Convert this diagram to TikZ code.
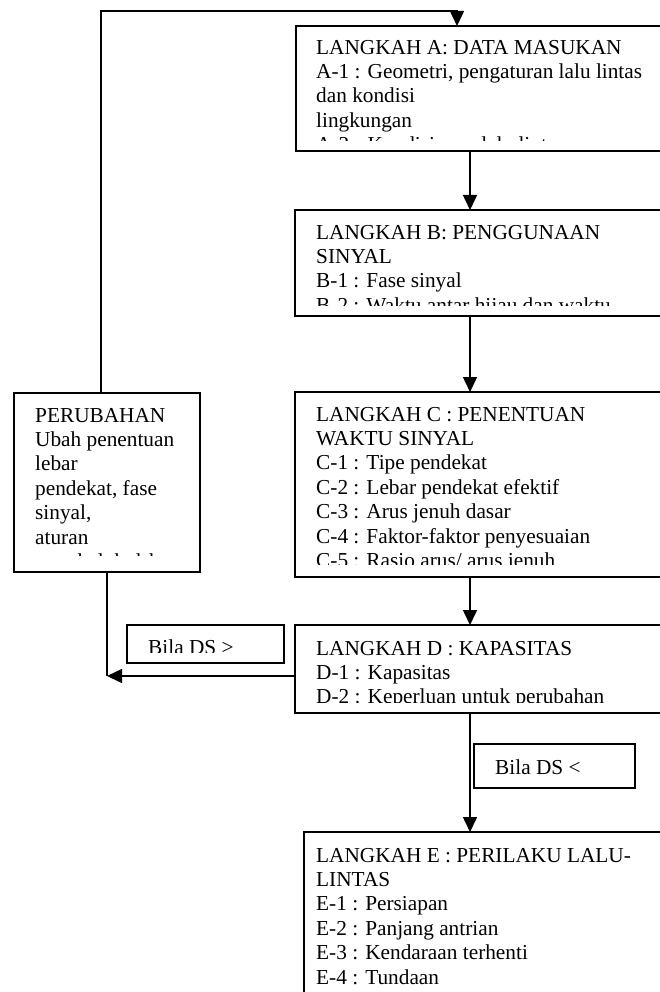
\documentclass[tikz,border=0pt]{standalone}
\usepackage{fontspec}
\setmainfont{Liberation Serif}
\usetikzlibrary{arrows.meta,calc}
\begin{document}
\begin{tikzpicture}[x=1pt,y=-1pt,
  box/.style={draw, line width=1.5pt, rectangle, inner sep=0pt, outer sep=0pt, anchor=north west},
  txt/.style={anchor=north west, inner sep=0pt, align=left, font=\fontsize{21.3}{24.4}\selectfont},
  arr/.style={line width=1.5pt, -{Triangle[length=15pt,width=14pt]}},
  ln/.style={line width=1.5pt}]
\useasboundingbox (0,0) rectangle (659,992);

% boxes
\node[box, minimum width=420pt, minimum height=125pt] (A) at (296,26) {};
\node[box, minimum width=420pt, minimum height=106pt] (B) at (295,210) {};
\node[box, minimum width=420pt, minimum height=185pt] (C) at (295,392) {};
\node[box, minimum width=420pt, minimum height=88pt] (D) at (295,625) {};
\node[box, minimum width=420pt, minimum height=220pt] (E) at (304,832) {};
\node[box, minimum width=186pt, minimum height=179pt] (P) at (14,393) {};
\node[box, minimum width=157pt, minimum height=38pt] (G1) at (127,625) {};
\node[box, minimum width=161pt, minimum height=44pt] (G2) at (474,744) {};

% texts (clipped like the text boxes of the original)
\begin{scope}
\clip (A.north west) rectangle ([yshift=10pt]A.south east);
\node[txt] (At) at (316,36.9) {\strut LANGKAH A: DATA MASUKAN\\A-1 : Geometri, pengaturan lalu lintas\\dan kondisi\\lingkungan\\A-2 : Kondisi arus lalu lintas};
\end{scope}
\begin{scope}
\clip (B.north west) rectangle ([yshift=11pt]B.south east);
\node[txt] (Bt) at (316,221.9) {\strut LANGKAH B: PENGGUNAAN\\SINYAL\\B-1 : Fase sinyal\\B-2 : Waktu antar hijau dan waktu\\hilang};
\end{scope}
\begin{scope}
\clip (C.north west) rectangle ([yshift=13pt]C.south east);
\node[txt] (Ct) at (316,403.9) {\strut LANGKAH C : PENENTUAN\\WAKTU SINYAL\\C-1 : Tipe pendekat\\C-2 : Lebar pendekat efektif\\C-3 : Arus jenuh dasar\\C-4 : Faktor-faktor penyesuaian\\C-5 : Rasio arus/ arus jenuh};
\end{scope}
\begin{scope}
\clip (D.north west) rectangle ([yshift=11pt]D.south east);
\node[txt] (Dt) at (316,637.9) {\strut LANGKAH D : KAPASITAS\\D-1 : Kapasitas\\D-2 : Keperluan untuk perubahan};
\end{scope}
\begin{scope}
\clip (E.north west) rectangle (E.south east);
\node[txt] (Et) at (316,844.9) {\strut LANGKAH E : PERILAKU LALU-\\LINTAS\\E-1 : Persiapan\\E-2 : Panjang antrian\\E-3 : Kendaraan terhenti\\E-4 : Tundaan};
\end{scope}
\begin{scope}
\clip (P.north west) rectangle ([yshift=17pt]P.south east);
\node[txt] (Pt) at (35,404.9) {\strut PERUBAHAN\\Ubah penentuan\\lebar\\pendekat, fase\\sinyal,\\aturan\\membelok dsb};
\end{scope}
\begin{scope}
\clip (G1.north west) rectangle ([yshift=11pt]G1.south east);
\node[txt] (G1t) at (148,636.9) {\strut Bila DS >};
\end{scope}
\node[txt] (G2t) at (495,756.9) {\strut Bila DS <};

% connectors
\coordinate (tl) at (101,11);
\coordinate (ain) at ($(A.north west)+(161,0)$);
\draw[arr] (tl |- P.north) -- (tl) -| (ain);
\coordinate (xc) at ($(A.south west)+(174,0)$);
\draw[arr] (xc) -- (xc |- B.north);
\draw[arr] (xc |- B.south) -- (xc |- C.north);
\draw[arr] (xc |- C.south) -- (xc |- D.north);
\draw[arr] (xc |- D.south) -- (xc |- E.north);
\coordinate (dl) at ($(D.north west)+(0,51)$);
\draw[ln] (P.south) -- (P.south |- dl);
\draw[arr] (dl) -- (P.south |- dl);
\end{tikzpicture}
\end{document}
